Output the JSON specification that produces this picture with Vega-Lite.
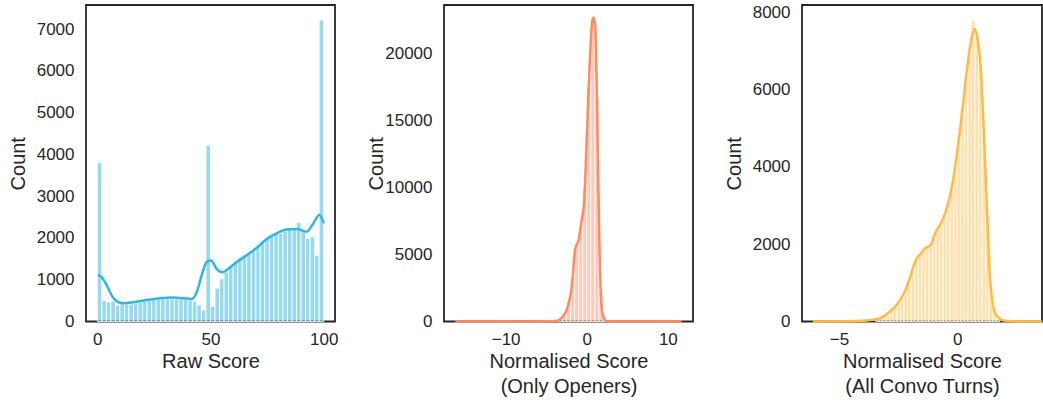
{
  "$schema": "https://vega.github.io/schema/vega-lite/v6.json",
  "background": "white",
  "padding": {"left": 7, "top": 2, "right": 0, "bottom": 0},
  "spacing": 109,
  "bounds": "flush",
  "config": {
    "font": "Liberation Sans",
    "view": {"stroke": "#262626", "strokeWidth": 1.8},
    "axis": {"grid": false, "domain": false, "ticks": false, "labelFontSize": 17, "titleFontSize": 20, "labelColor": "#262626", "titleColor": "#262626", "titleFontWeight": "normal", "labelFont": "Liberation Sans", "titleFont": "Liberation Sans"},
    "axisX": {"labelPadding": 9.5, "titlePadding": 4.5, "titleLineHeight": 25},
    "axisY": {"labelPadding": 12, "titlePadding": 8, "minExtent": 50, "maxExtent": 50}
  },
  "hconcat": [
    {
      "width": 249, "height": 316.5,
      "layer": [
        {
          "data": {"values": [
            {"start":0,"end":2,"count":3800},{"start":2,"end":4,"count":500},{"start":4,"end":6,"count":466},{"start":6,"end":8,"count":483},{"start":8,"end":10,"count":386},
            {"start":10,"end":12,"count":418},{"start":12,"end":14,"count":418},{"start":14,"end":16,"count":418},{"start":16,"end":18,"count":435},{"start":18,"end":20,"count":459},
            {"start":20,"end":22,"count":483},{"start":22,"end":24,"count":515},{"start":24,"end":26,"count":523},{"start":26,"end":28,"count":531},{"start":28,"end":30,"count":540},
            {"start":30,"end":32,"count":540},{"start":32,"end":34,"count":540},{"start":34,"end":36,"count":540},{"start":36,"end":38,"count":540},{"start":38,"end":40,"count":531},
            {"start":40,"end":42,"count":515},{"start":42,"end":44,"count":483},{"start":44,"end":46,"count":394},{"start":46,"end":48,"count":274},{"start":48,"end":50,"count":4220},
            {"start":50,"end":52,"count":362},{"start":52,"end":54,"count":797},{"start":54,"end":56,"count":1022},{"start":56,"end":58,"count":1183},{"start":58,"end":60,"count":1345},
            {"start":60,"end":62,"count":1442},{"start":62,"end":64,"count":1522},{"start":64,"end":66,"count":1601},{"start":66,"end":68,"count":1650},{"start":68,"end":70,"count":1707},
            {"start":70,"end":72,"count":1812},{"start":72,"end":74,"count":1868},{"start":74,"end":76,"count":1973},{"start":76,"end":78,"count":2029},{"start":78,"end":80,"count":2110},
            {"start":80,"end":82,"count":2110},{"start":82,"end":84,"count":2166},{"start":84,"end":86,"count":2246},{"start":86,"end":88,"count":2230},{"start":88,"end":90,"count":2367},
            {"start":90,"end":92,"count":2205},{"start":92,"end":94,"count":1988},{"start":94,"end":96,"count":2029},{"start":96,"end":98,"count":1587},{"start":98,"end":100,"count":7220}
          ]},
          "mark": {"type": "bar", "fill": "#30b6dd", "fillOpacity": 0.5, "stroke": "white", "strokeWidth": 0.8},
          "encoding": {
            "x": {"field": "start", "type": "quantitative", "scale": {"domain": [-5, 105], "nice": false, "zero": false}, "axis": {"values": [0, 50, 100], "title": "Raw Score"}},
            "x2": {"field": "end"},
            "y": {"field": "count", "type": "quantitative", "scale": {"domain": [0, 7580], "nice": false}, "axis": {"values": [0,1000,2000,3000,4000,5000,6000,7000], "format": "d", "title": "Count"}},
            "y2": {"datum": 0}
          }
        },
        {
          "data": {"values": [
            {"x":0.2,"y":1118},{"x":1.9,"y":1063},{"x":4.2,"y":862},{"x":6.4,"y":621},{"x":8.6,"y":483},{"x":11.5,"y":435},{"x":15.9,"y":459},{"x":21.8,"y":515},
            {"x":27.7,"y":556},{"x":33.6,"y":572},{"x":38,"y":556},{"x":41.7,"y":540},{"x":43.9,"y":700},{"x":46.1,"y":1103},{"x":48.3,"y":1425},{"x":50.2,"y":1460},
            {"x":52.7,"y":1263},{"x":55.4,"y":1180},{"x":57.9,"y":1263},{"x":61.6,"y":1425},{"x":66,"y":1587},{"x":70.4,"y":1763},{"x":74.8,"y":1973},{"x":79.2,"y":2110},
            {"x":83.7,"y":2205},{"x":88.1,"y":2215},{"x":92.5,"y":2150},{"x":95.4,"y":2350},{"x":98.1,"y":2553},{"x":100.1,"y":2350}
          ]},
          "mark": {"type": "line", "color": "#30b6dd", "strokeWidth": 2.5, "interpolate": "monotone"},
          "encoding": {
            "x": {"field": "x", "type": "quantitative"},
            "y": {"field": "y", "type": "quantitative"}
          }
        }
      ]
    },
    {
      "width": 249, "height": 316.5,
      "layer": [
        {
          "data": {"values": [
            {"start":-3.5,"end":-3,"count":230},{"start":-3,"end":-2.5,"count":613},{"start":-2.5,"end":-2,"count":1475},{"start":-2,"end":-1.5,"count":3226},
            {"start":-1.5,"end":-1,"count":5706},{"start":-1,"end":-0.5,"count":7084},{"start":-0.5,"end":0,"count":9874},{"start":0,"end":0.5,"count":17478},
            {"start":0.5,"end":1,"count":22600},{"start":1,"end":1.5,"count":16700},{"start":1.5,"end":2,"count":2235},{"start":2,"end":2.5,"count":150}
          ]},
          "mark": {"type": "bar", "fill": "#ff8a63", "fillOpacity": 0.45, "stroke": "white", "strokeWidth": 0.8},
          "encoding": {
            "x": {"field": "start", "type": "quantitative", "scale": {"domain": [-17.6, 13.1], "nice": false, "zero": false}, "axis": {"values": [-10, 0, 10], "title": ["Normalised Score", "(Only Openers)"]}},
            "x2": {"field": "end"},
            "y": {"field": "count", "type": "quantitative", "scale": {"domain": [0, 23660], "nice": false}, "axis": {"values": [0,5000,10000,15000,20000], "format": "d", "title": "Count"}},
            "y2": {"datum": 0}
          }
        },
        {
          "data": {"values": [
            {"x":-16.2,"y":0},{"x":-8,"y":5},{"x":-4.5,"y":15},{"x":-3.68,"y":50},{"x":-3.06,"y":300},{"x":-2.44,"y":926},{"x":-1.83,"y":2688},{"x":-1.42,"y":5444},
            {"x":-1.01,"y":6077},{"x":-0.59,"y":7703},{"x":-0.31,"y":8961},{"x":0.02,"y":13983},{"x":0.35,"y":18998},{"x":0.64,"y":22266},{"x":0.84,"y":22718},
            {"x":1.05,"y":22010},{"x":1.26,"y":16490},{"x":1.54,"y":6453},{"x":1.79,"y":1431},{"x":2.07,"y":301},{"x":2.49,"y":20},{"x":4,"y":0},{"x":11.7,"y":0}
          ]},
          "mark": {"type": "line", "color": "#ff8a63", "strokeWidth": 2.5, "interpolate": "monotone"},
          "encoding": {
            "x": {"field": "x", "type": "quantitative"},
            "y": {"field": "y", "type": "quantitative"}
          }
        }
      ]
    },
    {
      "width": 240, "height": 316.5,
      "layer": [
        {
          "data": {"values": [
            {"start":-3.45,"end":-3.3,"count":70},{"start":-3.3,"end":-3.15,"count":100},{"start":-3.15,"end":-3,"count":160},{"start":-3,"end":-2.85,"count":220},
            {"start":-2.85,"end":-2.7,"count":300},{"start":-2.7,"end":-2.55,"count":390},{"start":-2.55,"end":-2.4,"count":500},{"start":-2.4,"end":-2.25,"count":660},
            {"start":-2.25,"end":-2.1,"count":830},{"start":-2.1,"end":-1.95,"count":1100},{"start":-1.95,"end":-1.8,"count":1380},{"start":-1.8,"end":-1.65,"count":1610},
            {"start":-1.65,"end":-1.5,"count":1730},{"start":-1.5,"end":-1.35,"count":1850},{"start":-1.35,"end":-1.2,"count":1920},{"start":-1.2,"end":-1.05,"count":2000},
            {"start":-1.05,"end":-0.9,"count":2220},{"start":-0.9,"end":-0.75,"count":2400},{"start":-0.75,"end":-0.6,"count":2570},{"start":-0.6,"end":-0.45,"count":2790},
            {"start":-0.45,"end":-0.3,"count":3110},{"start":-0.3,"end":-0.15,"count":3500},{"start":-0.15,"end":0,"count":4100},{"start":0,"end":0.15,"count":4800},
            {"start":0.15,"end":0.3,"count":5500},{"start":0.3,"end":0.45,"count":6300},{"start":0.45,"end":0.6,"count":7000},{"start":0.6,"end":0.75,"count":7800},
            {"start":0.75,"end":0.9,"count":7400},{"start":0.9,"end":1.05,"count":6600},{"start":1.05,"end":1.2,"count":4900},{"start":1.2,"end":1.35,"count":2700},
            {"start":1.35,"end":1.5,"count":1000},{"start":1.5,"end":1.65,"count":300},{"start":1.65,"end":1.8,"count":60}
          ]},
          "mark": {"type": "bar", "fill": "#ffbb45", "fillOpacity": 0.45, "stroke": "white", "strokeWidth": 0.8},
          "encoding": {
            "x": {"field": "start", "type": "quantitative", "scale": {"domain": [-6.56, 3.58], "nice": false, "zero": false}, "axis": {"values": [-5, 0], "title": ["Normalised Score", "(All Convo Turns)"]}},
            "x2": {"field": "end"},
            "y": {"field": "count", "type": "quantitative", "scale": {"domain": [0, 8190], "nice": false}, "axis": {"values": [0,2000,4000,6000,8000], "format": "d", "title": "Count"}},
            "y2": {"datum": 0}
          }
        },
        {
          "data": {"values": [
            {"x":-6.1,"y":0},{"x":-4.5,"y":5},{"x":-4.01,"y":18},{"x":-3.31,"y":78},{"x":-2.89,"y":234},{"x":-2.53,"y":450},{"x":-2.18,"y":825},{"x":-1.97,"y":1190},
            {"x":-1.76,"y":1580},{"x":-1.55,"y":1753},{"x":-1.34,"y":1901},{"x":-1.13,"y":1971},{"x":-0.91,"y":2318},{"x":-0.7,"y":2534},{"x":-0.49,"y":2838},
            {"x":-0.21,"y":3534},{"x":0,"y":4401},{"x":0.21,"y":5442},{"x":0.42,"y":6570},{"x":0.61,"y":7351},{"x":0.73,"y":7570},{"x":0.85,"y":7351},{"x":0.99,"y":6570},
            {"x":1.13,"y":4836},{"x":1.27,"y":2664},{"x":1.41,"y":930},{"x":1.62,"y":190},{"x":2.04,"y":18},{"x":2.6,"y":2},{"x":3.58,"y":0}
          ]},
          "mark": {"type": "line", "color": "#ffbb45", "strokeWidth": 2.5, "interpolate": "monotone"},
          "encoding": {
            "x": {"field": "x", "type": "quantitative"},
            "y": {"field": "y", "type": "quantitative"}
          }
        }
      ]
    }
  ]
}
